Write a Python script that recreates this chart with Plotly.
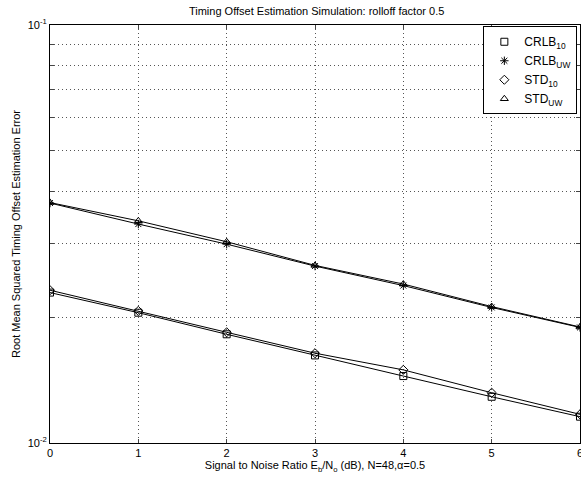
import plotly.graph_objects as go

snr_db = [0, 1, 2, 3, 4, 5, 6]
crlb_10 = [0.0229, 0.0205, 0.0182, 0.0162, 0.01446, 0.0129, 0.01156]
crlb_uw = [0.0375, 0.0334, 0.0299, 0.0265, 0.0238, 0.0211, 0.0189]
std_10 = [0.0232, 0.0207, 0.0184, 0.0164, 0.01496, 0.01319, 0.01171]
std_uw = [0.0376, 0.0340, 0.0303, 0.0266, 0.0240, 0.0212, 0.01895]

series = [
    ("CRLB<sub>10</sub>", crlb_10, "square-open"),
    ("CRLB<sub>UW</sub>", crlb_uw, "asterisk-open"),
    ("STD<sub>10</sub>", std_10, "diamond-open"),
    ("STD<sub>UW</sub>", std_uw, "triangle-up-open"),
]

y_tickvals = [0.01, 0.02, 0.03, 0.04, 0.05, 0.06, 0.07, 0.08, 0.09, 0.1]
y_ticktext = ["10<sup>-2</sup>", "", "", "", "", "", "", "", "", "10<sup>-1</sup>"]
x_tickvals = [0, 1, 2, 3, 4, 5, 6]
x_ticktext = ["0", "1", "2", "3", "4", "5", ""]

fig = go.Figure()
for name, vals, sym in series:
    fig.add_trace(go.Scatter(
        x=snr_db, y=vals, name=name, mode="lines+markers", showlegend=False,
        line=dict(color="black", width=1),
        marker=dict(symbol=sym, size=7, color="black", line=dict(color="black", width=1)),
    ))
for name, vals, sym in series:
    fig.add_trace(go.Scatter(
        x=[None], y=[None], name=name, mode="markers",
        marker=dict(symbol=sym, size=7, color="black", line=dict(color="black", width=1)),
    ))

font = dict(family="Liberation Sans, Arial, sans-serif", size=11, color="black")
fig.update_layout(
    width=581, height=478,
    margin=dict(l=50, r=1, t=25, b=35),
    paper_bgcolor="white", plot_bgcolor="white",
    font=font,
    title=dict(text="Timing Offset Estimation Simulation: rolloff factor 0.5",
               x=0.545, xanchor="center", y=0.985, yanchor="top", font=dict(size=11)),
    legend=dict(x=0.995, xanchor="right", y=0.997, yanchor="top",
                bordercolor="black", borderwidth=1, bgcolor="white",
                font=dict(size=12), tracegroupgap=0, itemwidth=30),
    showlegend=True,
)
fig.add_annotation(x=6, y=0, xref="x", yref="paper", text="6", showarrow=False,
                   xanchor="center", yanchor="top", yshift=-2, font=dict(size=11))
fig.update_xaxes(
    range=[0, 6], tickvals=x_tickvals, ticktext=x_ticktext, ticks="inside", ticklen=4,
    showline=True, linecolor="black", linewidth=1, mirror="ticks",
    showgrid=True, gridcolor="#555555", griddash="1px,3px", gridwidth=1,
    zeroline=False,
    title=dict(text="Signal to Noise Ratio E<sub>b</sub>/N<sub>o</sub> (dB), N=48,\u03b1=0.5",
               standoff=2, font=dict(size=11)),
    tickfont=dict(size=11),
)
fig.update_yaxes(
    type="log", range=[-2, -1], tickvals=y_tickvals, ticktext=y_ticktext,
    ticks="inside", ticklen=4,
    showline=True, linecolor="black", linewidth=1, mirror="ticks",
    showgrid=True, gridcolor="#555555", griddash="1px,3px", gridwidth=1,
    zeroline=False,
    title=dict(text="Root Mean Squared Timing Offset Estimation Error",
               standoff=4, font=dict(size=11)),
    tickfont=dict(size=11),
)
fig.write_html("out.html")
